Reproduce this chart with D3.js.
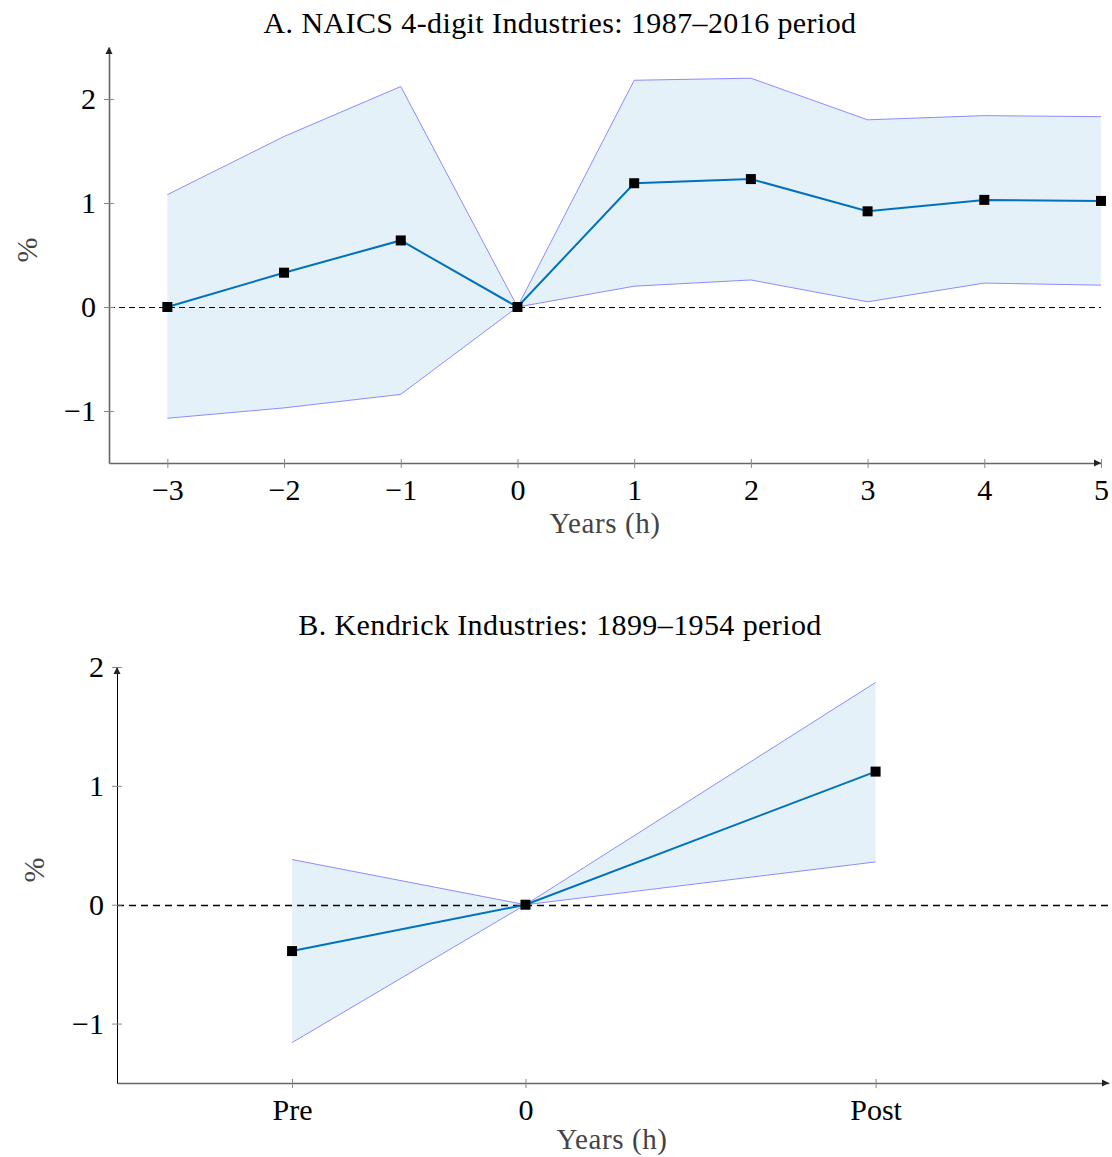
<!DOCTYPE html>
<html lang="en">
<head>
<meta charset="utf-8">
<title>Event study</title>
<script src="https://cdn.jsdelivr.net/npm/d3@7"></script>
<style type="text/css">
  body { margin: 0; background: #fff; }
  text { font-family: "Liberation Serif", "DejaVu Serif", serif; }
</style>
</head>
<body>
<script type="text/javascript">
// panel A data
var yearsA = [-3, -2, -1, 0, 1, 2, 3, 4, 5];
var coefA  = [0.00, 0.33, 0.64, 0.00, 1.19, 1.23, 0.92, 1.03, 1.02];
var upperA = [1.08, 1.64, 2.12, 0.00, 2.18, 2.20, 1.80, 1.84, 1.83];
var lowerA = [-1.07, -0.97, -0.84, 0.00, 0.20, 0.26, 0.05, 0.23, 0.21];
var yTicksA = [-1, 0, 1, 2];

// panel B data
var periodsB = ['Pre', '0', 'Post'];
var posB   = [-1, 0, 1.5];
var coefB  = [-0.39, 0.00, 1.12];
var upperB = [0.38, 0.00, 1.87];
var lowerB = [-1.16, 0.00, 0.36];
var yTicksB = [-1, 0, 1, 2];

var w = 1112, h = 1157;
var svg = d3.select('body').append('svg')
            .attr('width', w)
            .attr('height', h);

function fmt(v) { return v < 0 ? '\u2212' + Math.abs(v) : String(v); }

function drawPanel(p) {
  var g = svg.append('g');
  var x = d3.scaleLinear().domain(p.xDomain).range(p.xRange);
  var y = d3.scaleLinear().domain(p.yDomain).range(p.yRange);

  var rows = p.xs.map(function(d, i) {
    return {x: d, c: p.coef[i], u: p.upper[i], l: p.lower[i]};
  });

  // confidence band
  g.append('path')
    .datum(rows)
    .attr('d', d3.area().x(function(d) { return x(d.x); })
                        .y0(function(d) { return y(d.l); })
                        .y1(function(d) { return y(d.u); }))
    .attr('fill', '#e5f1f8');
  [ 'u', 'l' ].forEach(function(k) {
    g.append('path')
      .datum(rows)
      .attr('d', d3.line().x(function(d) { return x(d.x); })
                          .y(function(d) { return y(d[k]); }))
      .attr('fill', 'none')
      .attr('stroke', '#8c8cff')
      .attr('stroke-width', 1);
  });

  // zero line
  g.append('line')
    .attr('x1', p.xRange[0]).attr('x2', p.xRange[1])
    .attr('y1', Math.round(y(0)) + 0.5).attr('y2', Math.round(y(0)) + 0.5)
    .attr('stroke', '#000')
    .attr('stroke-width', p.dashWidth)
    .attr('stroke-dasharray', p.dash);

  // axes
  var xAxis = g.append('g')
    .attr('transform', 'translate(0,' + p.yRange[0] + ')')
    .call(d3.axisBottom(x).tickValues(p.xTicks).tickFormat(p.xFormat)
             .tickSizeInner(5).tickSizeOuter(0).tickPadding(11));
  var yAxis = g.append('g')
    .attr('transform', 'translate(' + p.xRange[0] + ',0)')
    .call(d3.axisLeft(y).tickValues(p.yTicks).tickFormat(fmt)
             .tickSizeInner(5).tickSizeOuter(0).tickPadding(8));

  xAxis.selectAll('.tick line').attr('y1', -4).attr('stroke', '#888');
  yAxis.selectAll('.tick line').attr('x1', 5).attr('stroke', '#888');
  xAxis.select('.domain').attr('stroke', '#666').attr('stroke-width', 1.6);
  yAxis.select('.domain').attr('stroke', p.yAxisColor).attr('stroke-width', p.yAxisWidth);
  g.selectAll('.tick text').attr('font-size', 30).attr('fill', '#000')
   .attr('font-family', '"Liberation Serif", serif');

  // arrow heads
  var xe = p.xRange[1], ye = p.yRange[0];
  g.append('path')
    .attr('d', 'M' + (xe - 7) + ',' + (ye - 3.5) + ' L' + xe + ',' + ye + ' L' + (xe - 7) + ',' + (ye + 3.5) + ' Z')
    .attr('fill', '#222');
  var xa = p.xRange[0], ya = p.yRange[1];
  g.append('path')
    .attr('d', 'M' + (xa - 3.5) + ',' + (ya + 7) + ' L' + xa + ',' + ya + ' L' + (xa + 3.5) + ',' + (ya + 7) + ' Z')
    .attr('fill', '#222');

  // coefficient line and markers
  g.append('path')
    .datum(rows)
    .attr('d', d3.line().x(function(d) { return x(d.x); })
                        .y(function(d) { return y(d.c); }))
    .attr('fill', 'none')
    .attr('stroke', '#0072bd')
    .attr('stroke-width', 2);
  g.selectAll('rect.mk')
    .data(rows)
    .enter()
    .append('rect')
    .attr('class', 'mk')
    .attr('x', function(d) { return x(d.x) - 5; })
    .attr('y', function(d) { return y(d.c) - 5; })
    .attr('width', 10)
    .attr('height', 10)
    .attr('fill', '#000');

  // titles and labels
  g.append('text')
    .attr('x', 560).attr('y', p.titleY)
    .attr('text-anchor', 'middle')
    .attr('font-size', 30)
    .attr('letter-spacing', 0.4)
    .attr('fill', '#000')
    .text(p.title);
  g.append('text')
    .attr('x', p.xLabelX).attr('y', p.xLabelY)
    .attr('text-anchor', 'middle')
    .attr('font-size', 29)
    .attr('letter-spacing', 0.6)
    .attr('fill', '#444')
    .text('Years (h)');
  g.append('text')
    .attr('transform', 'translate(' + p.yLabelX + ',' + p.yLabelY + ') rotate(-90)')
    .attr('text-anchor', 'middle')
    .attr('font-size', 30)
    .attr('fill', '#444')
    .text('%');
}

drawPanel({
  title: 'A. NAICS 4-digit Industries: 1987\u20132016 period',
  titleY: 33,
  xs: yearsA, coef: coefA, upper: upperA, lower: lowerA,
  xDomain: [-3.5, 5], xRange: [109, 1101],
  yDomain: [-1.5, 2.5], yRange: [463, 47],
  xTicks: yearsA, xFormat: fmt,
  yTicks: yTicksA,
  yAxisColor: '#666', yAxisWidth: 1.6,
  dash: '6,4', dashWidth: 1.2,
  xLabelX: 605, xLabelY: 533,
  yLabelX: 37, yLabelY: 250
});

drawPanel({
  title: 'B. Kendrick Industries: 1899\u20131954 period',
  titleY: 635,
  xs: posB, coef: coefB, upper: upperB, lower: lowerB,
  xDomain: [-1.75, 2.5], xRange: [117, 1109],
  yDomain: [-1.5, 2], yRange: [1083, 667],
  xTicks: posB, xFormat: function(d, i) { return periodsB[i]; },
  yTicks: yTicksB,
  yAxisColor: '#000', yAxisWidth: 1,
  dash: '7,5', dashWidth: 1.6,
  xLabelX: 612, xLabelY: 1149,
  yLabelX: 44, yLabelY: 870
});
</script>
</body>
</html>
